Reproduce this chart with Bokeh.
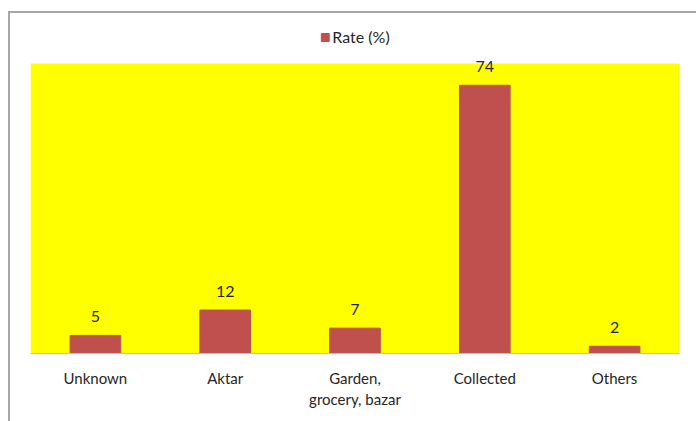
from bokeh.plotting import figure
from bokeh.layouts import column
from bokeh.models import ColumnDataSource, LabelSet, Legend, LegendItem, Range1d, BoxAnnotation
from bokeh.core.properties import value
from bokeh.embed import file_html
from bokeh.resources import INLINE

categories = ["Unknown", "Aktar", "Garden,\ngrocery, bazar", "Collected", "Others"]
rates = [5, 12, 7, 74, 2]
series_name = "Rate (%)"
axis_max = 80  # top of the value axis (yellow plot area)

src = ColumnDataSource(dict(cat=categories, rate=rates, lbl=[str(v) for v in rates]))

FONT = "Lato"
W, H = 686, 408
MB_L, MB_R, MB_T, MB_B = 20, 17, 2, 68
PLOT_H = 290          # pixel height of the yellow area
frame_h = H - MB_T - MB_B
y_top = axis_max * frame_h / PLOT_H   # extra room above the plot area for the legend

p = figure(x_range=categories, y_range=Range1d(0, y_top), width=W, height=H,
           output_backend="svg", toolbar_location=None,
           min_border_left=MB_L, min_border_right=MB_R, min_border_top=MB_T,
           min_border_bottom=MB_B)
p.background_fill_color = "white"
p.border_fill_color = "white"
p.outline_line_color = None
p.grid.grid_line_color = None
p.yaxis.visible = False

# yellow plot area, from 0 to axis_max
p.add_layout(BoxAnnotation(top=axis_max, fill_color="#FFFF00", fill_alpha=1,
                           line_alpha=0, level="underlay"))

r = p.vbar(x="cat", top="rate", width=0.39, source=src, fill_color="#C0504D",
           line_color="#C0504D")

labels = LabelSet(x="cat", y="rate", text="lbl", source=src, text_align="center",
                  text_baseline="alphabetic", y_offset=13, text_font=value(FONT),
                  text_font_size="16px", text_color="#262626")
p.add_layout(labels)

xa = p.xaxis[0]
xa.axis_line_color = "#bfbfbf"
xa.axis_line_width = 1
xa.major_tick_line_color = None
xa.minor_tick_line_color = None
xa.major_label_text_font = FONT
xa.major_label_text_font_size = "15px"
xa.major_label_text_color = "#262626"
xa.major_label_standoff = 9

legend = Legend(items=[LegendItem(label=series_name, renderers=[r])],
                orientation="horizontal", location="top_center",
                label_text_font=FONT, label_text_font_size="16px",
                label_text_color="#262626", glyph_width=10, glyph_height=10,
                label_standoff=3, padding=4, margin=12, border_line_color=None,
                background_fill_alpha=0)
p.add_layout(legend)

layout = column(p, styles={"margin-left": "8px", "margin-top": "11px",
                           "border-left": "2px solid #a6a6a6",
                           "border-top": "2px solid #a6a6a6"})

open("out.html", "w").write(file_html(layout, INLINE))
